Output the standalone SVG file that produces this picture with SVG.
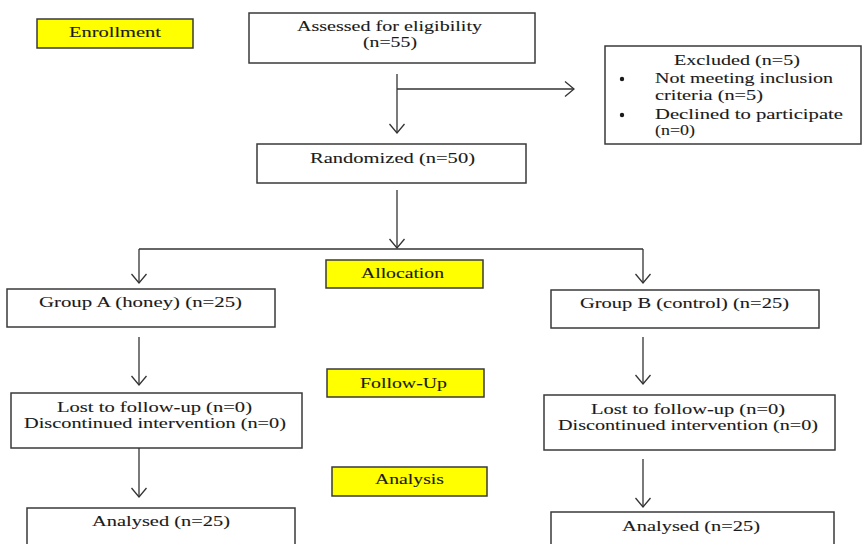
<svg xmlns="http://www.w3.org/2000/svg" width="862" height="544" viewBox="0 0 862 544">
<style>
.box{fill:#fff;stroke:#3a3a3a;stroke-width:1.5}
.stage{fill:#ffff00;stroke:#3a3a3a;stroke-width:1.5}
text{font-family:"Liberation Serif","Times New Roman",serif;font-size:15.5px;fill:#1a1a1a;stroke:#1a1a1a;stroke-width:0.1}
.c{stroke:#333;stroke-width:1.3;fill:none}
</style>
<defs>
<marker id="ah" markerUnits="userSpaceOnUse" viewBox="-11 -9 12 18" markerWidth="12" markerHeight="18" refX="0" refY="0" orient="auto">
<path d="M-9,-7.5 L0,0 L-9,7.5" fill="none" stroke="#333" stroke-width="1.3"/>
</marker>
</defs>
<rect width="862" height="544" fill="#fff"/>

<g id="enrollment"><rect class="stage" x="37" y="19" width="156" height="29"/><text x="69" y="37" textLength="92" lengthAdjust="spacingAndGlyphs">Enrollment</text></g>
<g id="assessed"><rect class="box" x="249" y="13" width="286" height="50"/><text x="297" y="31" textLength="185" lengthAdjust="spacingAndGlyphs">Assessed for eligibility</text><text x="363" y="47" textLength="54" lengthAdjust="spacingAndGlyphs">(n=55)</text></g>
<g id="excluded"><rect class="box" x="605" y="46" width="256" height="98"/>
<text x="674" y="65" textLength="126" lengthAdjust="spacingAndGlyphs">Excluded (n=5)</text>
<circle cx="622" cy="79" r="2.2" fill="#1a1a1a"/>
<text x="655" y="83" textLength="178" lengthAdjust="spacingAndGlyphs">Not meeting inclusion</text>
<text x="655" y="100" textLength="108" lengthAdjust="spacingAndGlyphs">criteria (n=5)</text>
<circle cx="622" cy="115" r="2.2" fill="#1a1a1a"/>
<text x="655" y="119" textLength="188" lengthAdjust="spacingAndGlyphs">Declined to participate</text>
<text x="655" y="135" textLength="40" lengthAdjust="spacingAndGlyphs">(n=0)</text></g>
<g id="randomized"><rect class="box" x="257" y="144" width="269" height="39"/><text x="310" y="163" textLength="165" lengthAdjust="spacingAndGlyphs">Randomized (n=50)</text></g>
<g id="allocation"><rect class="stage" x="326" y="260" width="157" height="28"/><text x="361" y="278" textLength="83" lengthAdjust="spacingAndGlyphs">Allocation</text></g>
<g id="groupA"><rect class="box" x="7" y="289" width="268" height="38"/><text x="39" y="307" textLength="203" lengthAdjust="spacingAndGlyphs">Group A (honey) (n=25)</text></g>
<g id="groupB"><rect class="box" x="551" y="290" width="268" height="38"/><text x="580" y="308" textLength="209" lengthAdjust="spacingAndGlyphs">Group B (control) (n=25)</text></g>
<g id="followup"><rect class="stage" x="327" y="369" width="157" height="28"/><text x="360" y="388" textLength="87" lengthAdjust="spacingAndGlyphs">Follow-Up</text></g>
<g id="lostA"><rect class="box" x="11" y="393" width="291" height="55"/><text x="57" y="412" textLength="195" lengthAdjust="spacingAndGlyphs">Lost to follow-up (n=0)</text><text x="24" y="428" textLength="262" lengthAdjust="spacingAndGlyphs">Discontinued intervention (n=0)</text></g>
<g id="lostB"><rect class="box" x="544" y="395" width="291" height="55"/><text x="591" y="414" textLength="194" lengthAdjust="spacingAndGlyphs">Lost to follow-up (n=0)</text><text x="558" y="430" textLength="260" lengthAdjust="spacingAndGlyphs">Discontinued intervention (n=0)</text></g>
<g id="analysis"><rect class="stage" x="332" y="467" width="155" height="29"/><text x="375" y="484" textLength="69" lengthAdjust="spacingAndGlyphs">Analysis</text></g>
<g id="analysedA"><rect class="box" x="27" y="508" width="268" height="50"/><text x="92" y="526" textLength="138" lengthAdjust="spacingAndGlyphs">Analysed (n=25)</text></g>
<g id="analysedB"><rect class="box" x="551" y="512" width="283" height="50"/><text x="622" y="531" textLength="138" lengthAdjust="spacingAndGlyphs">Analysed (n=25)</text></g>

<g id="connectors">
<path class="c" d="M397,74 V133" marker-end="url(#ah)"/>
<path class="c" d="M397,89 H574" marker-end="url(#ah)"/>
<path class="c" d="M397,190 V248" marker-end="url(#ah)"/>
<path class="c" d="M139,249 H643"/>
<path class="c" d="M139,249 V283" marker-end="url(#ah)"/>
<path class="c" d="M643,249 V283" marker-end="url(#ah)"/>
<path class="c" d="M139,337 V385" marker-end="url(#ah)"/>
<path class="c" d="M643,337 V384" marker-end="url(#ah)"/>
<path class="c" d="M139,448 V497" marker-end="url(#ah)"/>
<path class="c" d="M643,459 V507" marker-end="url(#ah)"/>
</g>
</svg>
